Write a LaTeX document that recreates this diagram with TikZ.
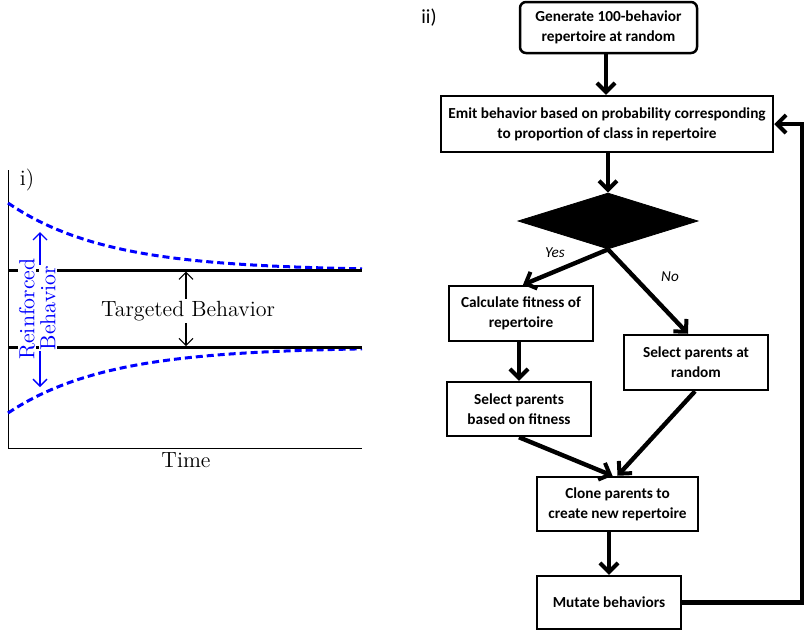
\documentclass[tikz,border=0pt]{standalone}
\usepackage{fontspec}
\newfontfamily\flowfont{Carlito}
\usetikzlibrary{arrows.meta,shapes.geometric,calc}
\tikzset{
  axisline/.style={line width=0.5pt},
  bound/.style={line width=1.5pt},
  envelope/.style={blue,line width=1.5pt,dash pattern=on 3.5pt off 2pt},
  lab/.style={font=\fontsize{11}{12}\selectfont,inner sep=1pt},
  blab/.style={font=\fontsize{10.9}{11}\selectfont,text=blue,fill=white,inner sep=0.5pt,rotate=90},
  box/.style={draw,line width=1.25pt,align=center,inner sep=1pt,
     font=\flowfont\bfseries\fontsize{7.65}{10}\selectfont},
  flow/.style={line width=2.2pt,-{Straight Barb[length=4.5pt,width=9pt,line width=2pt]}},
  flowlab/.style={font=\flowfont\itshape\fontsize{7.6}{9}\selectfont,inner sep=0pt}
}
\begin{document}
\begin{tikzpicture}[x=0.5pt,y=-0.5pt]
\useasboundingbox (0,0) rectangle (804,634);
% ---------- panel i ----------
\draw[axisline] (8,170) -- (8,448) -- (362,448);
\draw[envelope] plot[domain=8:362,samples=80,smooth] (\x,{270.7-67.7*exp(-(\x-8)/99)});
\draw[envelope] plot[domain=8:362,samples=80,smooth] (\x,{347+66*exp(-(\x-8)/99)});
\draw[bound] (8,270.7) -- (362,270.7);
\draw[bound] (8,347) -- (362,347);
\coordinate (ra) at (40,232);
\coordinate (rb) at (40,387);
\draw[blue,line width=0.7pt,{Straight Barb[length=3.5pt,width=7pt]}-{Straight Barb[length=3.5pt,width=7pt]}] (ra) -- (rb);
\node[blab] (reinf) at (27,309) {Reinforced};
\node[blab] (behav) at (48,308) {Behavior};
\coordinate (ta) at (186,271.5);
\coordinate (tb) at (186,346.2);
\draw[line width=0.6pt,{Straight Barb[length=3.5pt,width=7pt]}-{Straight Barb[length=3.5pt,width=7pt]}] (ta) -- (tb);
\node[lab,fill=white] (targ) at (188,311) {Targeted Behavior};
\node[lab] (one) at (27,180) {i)};
\node[lab] (time) at (186,460) {Time};
% ---------- panel ii ----------
\node[font=\flowfont\fontsize{10}{12}\selectfont] (two) at (429,18) {ii)};
\node[box,rounded corners=3pt,minimum width=88.5pt,minimum height=25.5pt] (gen) at (608.5,27.5) {Generate 100-behavior\\repertoire at random};
\node[box,minimum width=166pt,minimum height=28pt] (emit) at (607,124) {Emit behavior based on probability corresponding\\to proportion of class in repertoire};
\node[draw,fill=black,diamond,aspect=3.2,inner sep=0pt,minimum width=90pt,minimum height=28pt] (dia) at (608,221) {};
\node[box,minimum width=72pt,minimum height=27.5pt] (calc) at (521,313.5) {Calculate fitness of\\repertoire};
\node[box,minimum width=72pt,minimum height=27.5pt] (rand) at (696,362.5) {Select parents at\\random};
\node[box,minimum width=72pt,minimum height=27pt] (selfit) at (519,409) {Select parents\\based on fitness};
\node[box,minimum width=80.5pt,minimum height=27pt] (clone) at (617.5,504) {Clone parents to\\create new repertoire};
\node[box,minimum width=72pt,minimum height=26.5pt] (mut) at (609,602.5) {Mutate behaviors};
\draw[flow] (gen.south -| 606,0) -- (emit.north -| 606,0);
\draw[flow] (emit.south -| dia.north) -- (dia.north);
\draw[flow] (dia.south) -- ($(calc.north)+(2,0)$);
\draw[flow] (dia.south) -- ($(rand.north)+(-8,0)$);
\draw[flow] (calc.south -| selfit.north) -- (selfit.north);
\draw[flow] (selfit.south) -- ($(clone.north)+(-5,0)$);
\draw[flow] ($(rand.south)+(-1,0)$) -- ($(clone.north)+(0,0)$);
\draw[flow] (clone.south -| mut.north) -- (mut.north);
\coordinate (loopc) at (802,602.5);
\draw[flow] (mut.east) -- (loopc) |- (emit.east);
\node[flowlab] (yes) at (555,253) {Yes};
\node[flowlab] (no) at (670,277) {No};
\end{tikzpicture}
\end{document}
